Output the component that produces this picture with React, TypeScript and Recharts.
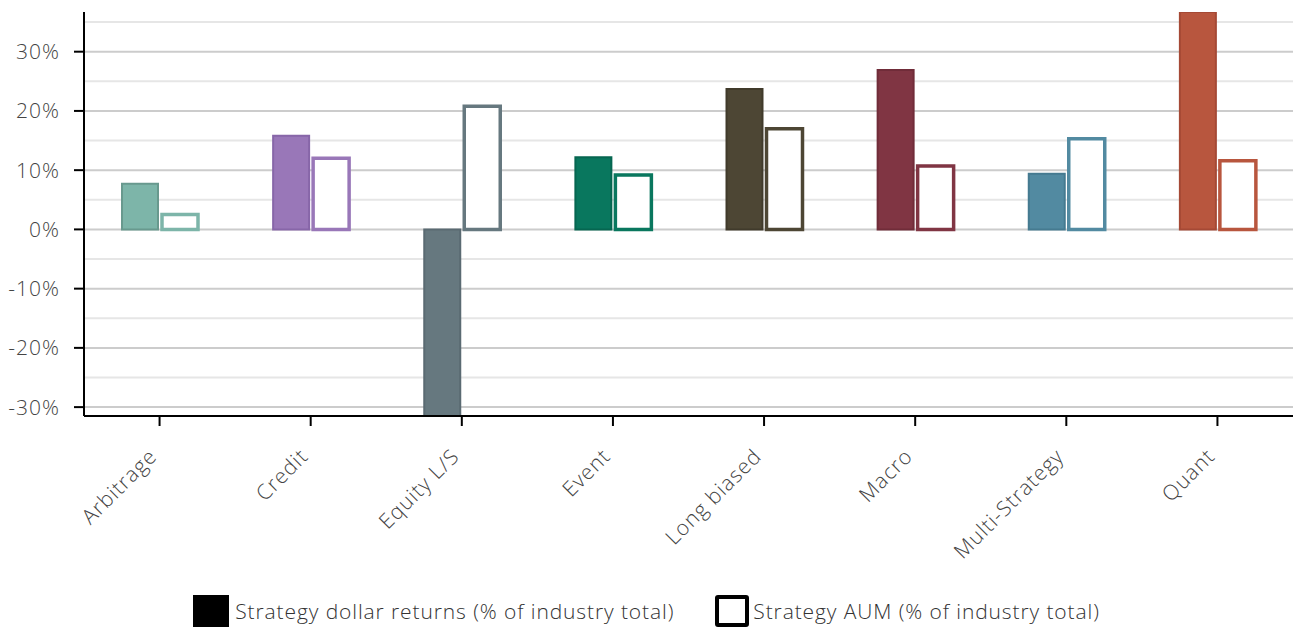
import React from "react";
import { BarChart, Bar, XAxis, YAxis, Cell, CartesianGrid, Legend } from "recharts";

const categories = ["Arbitrage", "Credit", "Equity L/S", "Event", "Long biased", "Macro", "Multi-Strategy", "Quant"];
const dollarReturns = [7.7, 15.8, -31.5, 12.2, 23.7, 26.9, 9.4, 36.7];
const aum = [2.5, 12.0, 20.8, 9.2, 17.0, 10.7, 15.3, 11.6];
const yTicks = [-30, -20, -10, 0, 10, 20, 30];
const minorLines = [-25, -15, -5, 5, 15, 25, 35];
const yDomain = [-31.5, 36.7];
const legendLabels = ["Strategy dollar returns (% of industry total)", "Strategy AUM (% of industry total)"];

const colors = ["#7db5a9", "#9977b8", "#66787f", "#09775e", "#4d4634", "#803543", "#528aa1", "#b8563e"];
const darkColors = ["#68998e", "#8766a8", "#5a6a72", "#066650", "#403a2b", "#702c39", "#457a90", "#a54935"];

const data = categories.map((c, i) => ({ name: c, returns: dollarReturns[i], aum: aum[i] }));

const FONT = "'Open Sans', sans-serif";

const XTick = (props: any) => {
  const { x, y, payload } = props;
  return (
    <g transform={`translate(${x - 7},${y + 24})`}>
      <text
        x={0}
        y={0}
        dy={8}
        textAnchor="end"
        transform="rotate(-45)"
        fill="#444"
        fontSize={21}
        fontWeight={300}
        letterSpacing={1}
        fontFamily={FONT}
      >
        {payload.value}
      </text>
    </g>
  );
};

const LegendContent = () => (
  <div
    style={{
      display: "flex",
      justifyContent: "center",
      alignItems: "center",
      fontFamily: FONT,
      fontWeight: 300,
      fontSize: 21,
      letterSpacing: 0.9,
      color: "#333",
    }}
  >
    <div style={{ display: "flex", alignItems: "center", marginRight: 41 }}>
      <div style={{ width: 36, height: 32, background: "#000", marginRight: 6 }} />
      <span>{legendLabels[0]}</span>
    </div>
    <div style={{ display: "flex", alignItems: "center" }}>
      <div
        style={{
          width: 26,
          height: 24,
          border: "4px solid #000",
          borderRadius: 3,
          background: "#fff",
          marginRight: 4,
        }}
      />
      <span>{legendLabels[1]}</span>
    </div>
  </div>
);

export default function App() {
  return (
    <div style={{ position: "absolute", left: 0, top: 0, width: 1296, height: 628, background: "#fff" }}>
      <BarChart
        width={1296}
        height={628}
        data={data}
        margin={{ top: 12, right: 3, bottom: 0, left: 0 }}
        barSize={36}
        barGap={4}
      >
        <CartesianGrid vertical={false} horizontalValues={minorLines} stroke="#e6e6e6" strokeWidth={2} />
        <CartesianGrid vertical={false} horizontalValues={yTicks} stroke="#cccccc" strokeWidth={2} />
        <XAxis
          dataKey="name"
          height={172}
          axisLine={{ stroke: "#000", strokeWidth: 2 }}
          tickLine={{ stroke: "#000", strokeWidth: 2 }}
          tickSize={10}
          interval={0}
          tick={<XTick />}
        />
        <YAxis
          width={84}
          domain={yDomain}
          allowDataOverflow
          ticks={yTicks}
          tickFormatter={(v: number) => `${v}%`}
          axisLine={{ stroke: "#000", strokeWidth: 2 }}
          tickLine={{ stroke: "#000", strokeWidth: 2 }}
          tickSize={10}
          tickMargin={14}
          tick={{ fill: "#444", fontSize: 21, fontWeight: 300, fontFamily: FONT, letterSpacing: 1 }}
        />
        <Legend verticalAlign="bottom" height={40} wrapperStyle={{ bottom: -7 }} content={<LegendContent />} />
        <Bar dataKey="returns" isAnimationActive={false} strokeWidth={2}>
          {data.map((_, i) => (
            <Cell key={i} fill={colors[i]} stroke={darkColors[i]} />
          ))}
        </Bar>
        <Bar dataKey="aum" isAnimationActive={false} strokeWidth={3.5}>
          {data.map((_, i) => (
            <Cell key={i} fill="#ffffff" stroke={colors[i]} />
          ))}
        </Bar>
      </BarChart>
    </div>
  );
}
